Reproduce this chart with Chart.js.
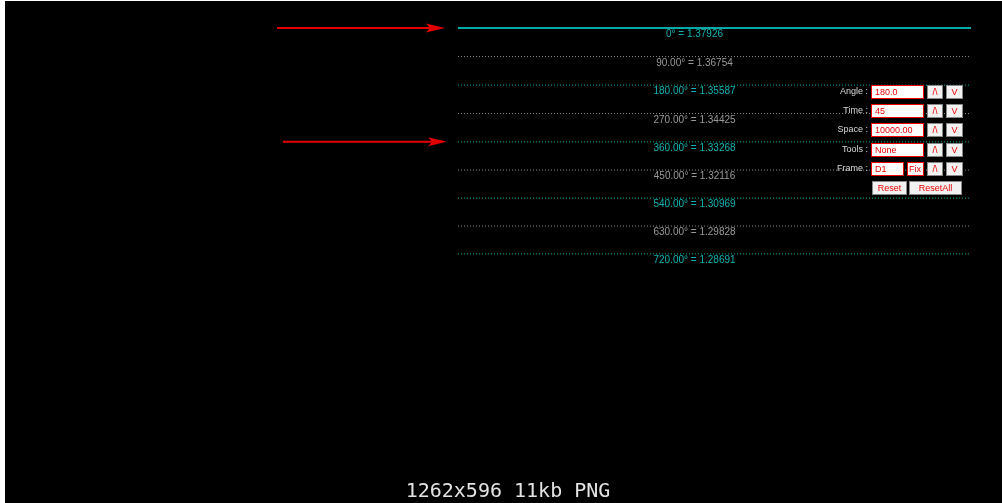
<!DOCTYPE html>
<html>
<head>
<meta charset="utf-8">
<script src="https://cdn.jsdelivr.net/npm/chart.js@4"></script>
<style>
  html, body { margin: 0; padding: 0; background: #fff; }
  body { width: 1002px; height: 503px; position: relative; overflow: hidden; }
  #frame { position: absolute; left: 5px; top: 1px; width: 997px; height: 502px; background: #000; }
  #chart { position: absolute; left: 0; top: 0; }
  .lbl { position: absolute; color: #d8d8d8; font: 9px 'Liberation Sans', Arial, sans-serif; text-align: right; width: 60px; }
  .box { position: absolute; box-sizing: border-box; background: #fff; border: 1px solid #e00;
         color: #e00; font: 9px 'Liberation Sans', Arial, sans-serif; padding: 1px 3px; line-height: 11px; }
  .btn { position: absolute; box-sizing: border-box; background: #f2f2f2; border: 1px solid #888;
         color: #e00; font: 9px 'Liberation Sans', Arial, sans-serif; text-align: center; line-height: 12px; }
  #caption { position: absolute; left: 0; width: 1016px; top: 478px; text-align: center;
             font: 20px 'DejaVu Sans Mono', monospace; color: #e4e4e4; }
</style>
</head>
<body>
<div id="frame"><canvas id="chart" width="997" height="502"></canvas></div>

<!-- control panel from the indicator -->
<div class="lbl" style="left:808px;top:86px">Angle :</div>
<div class="box" style="left:871px;top:85px;width:53px;height:14px">180.0</div>
<div class="btn" style="left:927px;top:85px;width:16px;height:14px">/\</div>
<div class="btn" style="left:946px;top:85px;width:17px;height:14px">V</div>

<div class="lbl" style="left:808px;top:105px">Time :</div>
<div class="box" style="left:871px;top:104px;width:53px;height:14px">45</div>
<div class="btn" style="left:927px;top:104px;width:16px;height:14px">/\</div>
<div class="btn" style="left:946px;top:104px;width:17px;height:14px">V</div>

<div class="lbl" style="left:808px;top:124px">Space :</div>
<div class="box" style="left:871px;top:123px;width:53px;height:14px">10000.00</div>
<div class="btn" style="left:927px;top:123px;width:16px;height:14px">/\</div>
<div class="btn" style="left:946px;top:123px;width:17px;height:14px">V</div>

<div class="lbl" style="left:808px;top:144px">Tools :</div>
<div class="box" style="left:871px;top:143px;width:53px;height:14px">None</div>
<div class="btn" style="left:927px;top:143px;width:16px;height:14px">/\</div>
<div class="btn" style="left:946px;top:143px;width:17px;height:14px">V</div>

<div class="lbl" style="left:808px;top:163px">Frame :</div>
<div class="box" style="left:871px;top:162px;width:33px;height:14px">D1</div>
<div class="box" style="left:907px;top:162px;width:17px;height:14px;padding:1px 1px">Fix</div>
<div class="btn" style="left:927px;top:162px;width:16px;height:14px">/\</div>
<div class="btn" style="left:946px;top:162px;width:17px;height:14px">V</div>

<div class="btn" style="left:872px;top:181px;width:35px;height:14px">Reset</div>
<div class="btn" style="left:909px;top:181px;width:53px;height:14px">ResetAll</div>

<div id="caption">1262x596 11kb PNG</div>

<script>
// Gann-style angle levels (degrees) and the price each one lands on
const levelAngles = [0, 90, 180, 270, 360, 450, 540, 630, 720];
const levelPrices = [1.37926, 1.36754, 1.35587, 1.34425, 1.33268, 1.32116, 1.30969, 1.29828, 1.28691];

// time span the levels are drawn over (x units = chart bars)
const levelStart = 453;
const levelEnd   = 966;

// red pointer arrows: which level they point at, and their x span
const arrowLevels = [0, 4];
const arrowFrom   = [272, 278];
const arrowTo     = [440, 442];

const TEAL = '#00a8a8';
const GREY = '#8a8a8a';

function levelLabel(i) {
  const a = levelAngles[i];
  const p = levelPrices[i].toFixed(5);
  return a === 0 ? `0° = ${p}` : `${a.toFixed(2)}° = ${p}`;
}

const datasets = levelPrices.map((price, i) => ({
  label: levelLabel(i),
  data: [{ x: levelStart, y: price }, { x: levelEnd, y: price }],
  borderColor: levelAngles[i] % 180 === 0 ? TEAL : GREY,
  borderWidth: i === 0 ? 2 : 1,
  borderDash: i === 0 ? [] : [1, 2],
  pointRadius: 0,
  showLine: true,
  fill: false
}));

/** Draws the level captions under each line */
const levelTextPlugin = {
  id: 'levelText',
  afterDatasetsDraw(chart) {
    const { ctx, scales: { x, y } } = chart;
    ctx.save();
    ctx.font = "10px 'Liberation Sans', Arial, sans-serif";
    ctx.textAlign = 'center';
    ctx.textBaseline = 'top';
    const cx = x.getPixelForValue((levelStart + levelEnd) / 2) - 20;
    levelPrices.forEach((price, i) => {
      ctx.fillStyle = levelAngles[i] % 180 === 0 ? '#10b4b4' : '#9a9a9a';
      ctx.fillText(levelLabel(i), cx, y.getPixelForValue(price) + 1.5);
    });
    ctx.restore();
  }
};

/** Draws the red arrows pointing at the chosen levels */
const arrowPlugin = {
  id: 'arrows',
  afterDatasetsDraw(chart) {
    const { ctx, scales: { x, y } } = chart;
    ctx.save();
    ctx.strokeStyle = '#e00000';
    ctx.fillStyle = '#e00000';
    ctx.lineWidth = 2;
    arrowLevels.forEach((lvl, i) => {
      const py = y.getPixelForValue(levelPrices[lvl]);
      const x0 = x.getPixelForValue(arrowFrom[i]);
      const x1 = x.getPixelForValue(arrowTo[i]);
      ctx.beginPath();
      ctx.moveTo(x0, py);
      ctx.lineTo(x1 - 12, py);
      ctx.stroke();
      ctx.beginPath();
      ctx.moveTo(x1, py);
      ctx.lineTo(x1 - 19, py - 4.5);
      ctx.lineTo(x1 - 15, py);
      ctx.lineTo(x1 - 19, py + 4.5);
      ctx.closePath();
      ctx.fill();
    });
    ctx.restore();
  }
};

new Chart(document.getElementById('chart'), {
  type: 'scatter',
  data: { datasets },
  plugins: [levelTextPlugin, arrowPlugin],
  options: {
    responsive: false,
    animation: false,
    layout: { padding: 0 },
    scales: {
      x: { type: 'linear', min: 0, max: 997, display: false },
      y: { type: 'linear', min: 1.18510, max: 1.39025, display: false }
    },
    plugins: {
      legend: { display: false },
      tooltip: { enabled: false }
    }
  }
});
</script>
</body>
</html>
